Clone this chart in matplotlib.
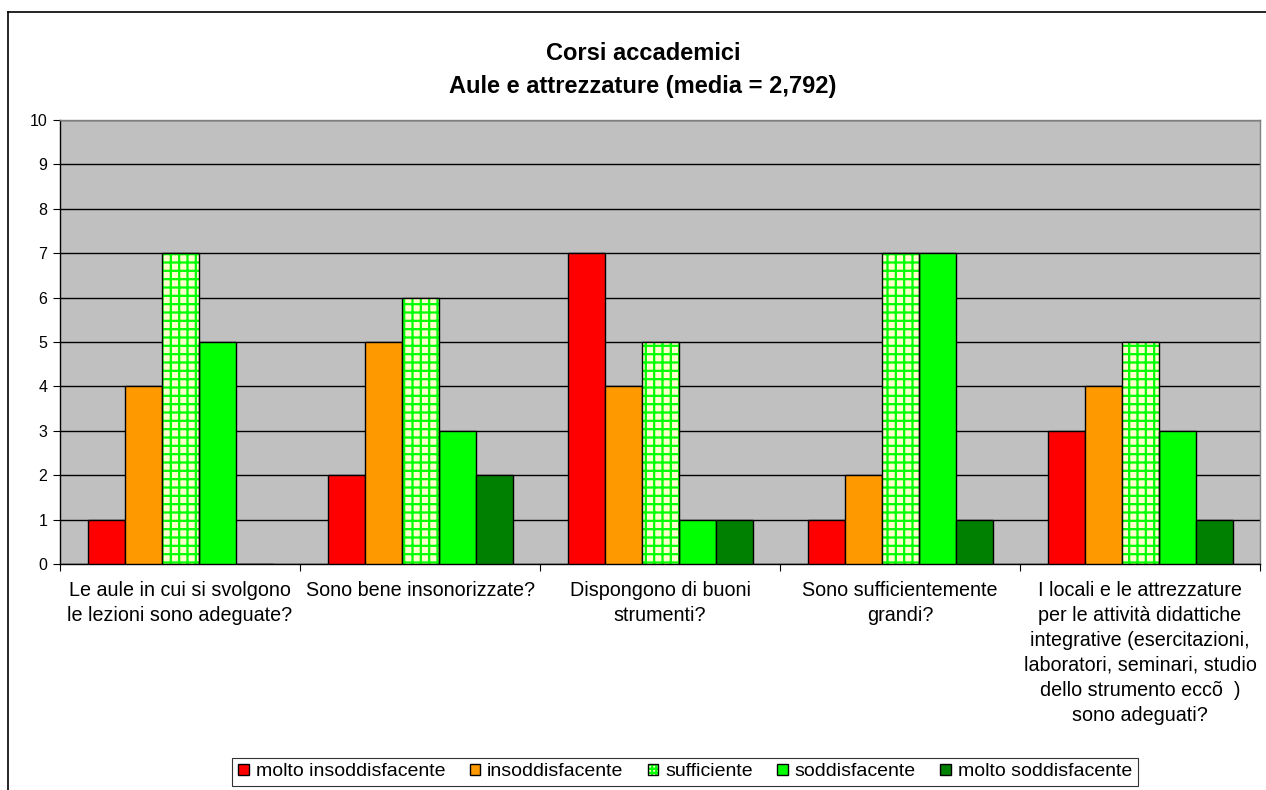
import matplotlib
matplotlib.use("Agg")
import matplotlib.pyplot as plt
import numpy as np
from matplotlib.patches import Patch
from matplotlib.lines import Line2D
from matplotlib.legend_handler import HandlerTuple

plt.rcParams['font.family'] = ['Liberation Sans', 'DejaVu Sans']
plt.rcParams['hatch.linewidth'] = 1.6

categories = [
    "Le aule in cui si svolgono\nle lezioni sono adeguate?",
    "Sono bene insonorizzate?",
    "Dispongono di buoni\nstrumenti?",
    "Sono sufficientemente\ngrandi?",
    "I locali e le attrezzature\nper le attività didattiche\nintegrative (esercitazioni,\nlaboratori, seminari, studio\ndello strumento eccõ  )\nsono adeguati?",
]
series_names = ["molto insoddisfacente", "insoddisfacente", "sufficiente",
                "soddisfacente", "molto soddisfacente"]
molto_insodd = [1, 2, 7, 1, 3]
insodd = [4, 5, 4, 2, 4]
sufficiente = [7, 6, 5, 7, 5]
soddisf = [5, 3, 1, 7, 3]
molto_soddisf = [0, 2, 1, 1, 1]
title = "Corsi accademici\nAule e attrezzature (media = 2,792)"

series = [molto_insodd, insodd, sufficiente, soddisf, molto_soddisf]
colors = ["#FF0000", "#FF9900", "#FFFFCC", "#00FF00", "#008000"]

fig = plt.figure(figsize=(12.66, 7.90), dpi=100)
ax = fig.add_axes([60/1266, 1-564/790, 1200/1266, 444/790])
ax.set_facecolor("#C0C0C0")

n = len(categories)
x = np.arange(n)
bw = 37/240
start = 28/240
for k, (vals, col) in enumerate(zip(series, colors)):
    pos = x + start + bw/2 + k*bw
    if k == 2:
        ax.bar(pos, vals, width=bw, color=col, edgecolor="#00FF00", hatch="++",
               linewidth=0, zorder=3)
        ax.bar(pos, vals, width=bw, facecolor="none", edgecolor="black",
               linewidth=1, zorder=4)
    else:
        ax.bar(pos, vals, width=bw, color=col, edgecolor="black",
               linewidth=1, zorder=3)

ax.set_xlim(0, n)
ax.set_ylim(0, 10)
ax.set_yticks(range(0, 11))
ax.yaxis.grid(True, color="black", linewidth=1)
ax.set_axisbelow(True)
ax.set_xticks(range(0, n+1))
ax.set_xticklabels([])
ax.set_xticks(x + 0.5, minor=True)
ax.set_xticklabels(categories, minor=True, fontsize=14.2, linespacing=1.4)
ax.tick_params(axis='x', which='minor', length=0, pad=12)
ax.tick_params(axis='x', which='major', length=5, direction='out', color='black')
ax.tick_params(axis='y', length=5, direction='out', labelsize=11.5, pad=4)
for s in ['left', 'bottom']:
    ax.spines[s].set_color('black')
    ax.spines[s].set_linewidth(1)
for s in ['top', 'right']:
    ax.spines[s].set_color('#808080')
    ax.spines[s].set_linewidth(1)

fig.text(643/1266, 1-70/790, title, ha='center', va='center', fontsize=17,
         fontweight='bold', linespacing=1.5)

handles = []
for k, col in enumerate(colors):
    if k == 2:
        h = (Patch(facecolor=col, edgecolor="#00FF00", hatch="++++", linewidth=0),
             Patch(facecolor="none", edgecolor="black", linewidth=1))
    else:
        h = Patch(facecolor=col, edgecolor="black", linewidth=1)
    handles.append(h)
leg = fig.legend(handles, series_names, loc='center', bbox_to_anchor=(685/1266, 1-772/790),
                 ncol=5, fontsize=14, frameon=True, fancybox=False, shadow=False,
                 handlelength=0.55, handleheight=0.55, handletextpad=0.35,
                 columnspacing=1.25, borderpad=0.3, borderaxespad=0,
                 handler_map={tuple: HandlerTuple(ndivide=1)})
leg.get_frame().set_edgecolor('black')
leg.get_frame().set_linewidth(0.8)

fig.add_artist(Line2D([8/1266, 8/1266], [0, 1-12/790], color='black', linewidth=1.2,
                      transform=fig.transFigure))
fig.add_artist(Line2D([8/1266, 1], [1-12/790, 1-12/790], color='black', linewidth=1.2,
                      transform=fig.transFigure))

fig.savefig("out.png", dpi=100)
